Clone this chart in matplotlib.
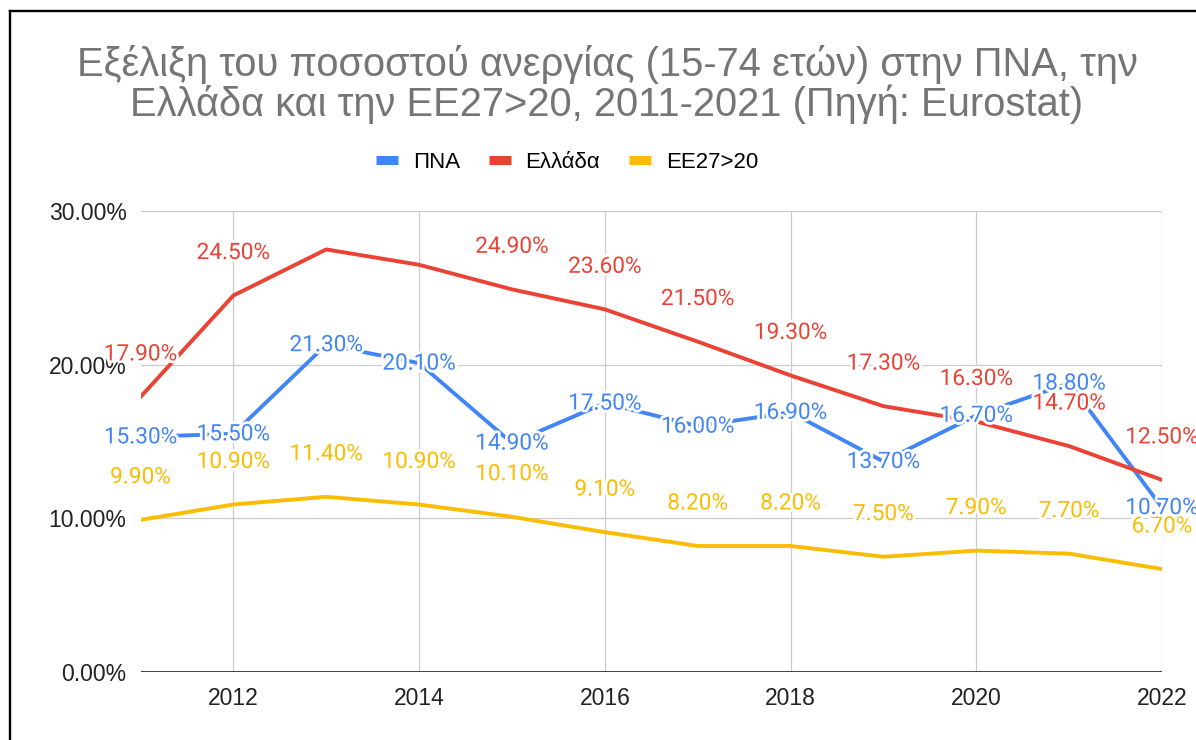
import matplotlib
matplotlib.use("Agg")
import matplotlib.pyplot as plt
import matplotlib.patheffects as pe
from matplotlib.lines import Line2D

# data
years = [2011, 2012, 2013, 2014, 2015, 2016, 2017, 2018, 2019, 2020, 2021, 2022]
pna = [15.3, 15.5, 21.3, 20.1, 14.9, 17.5, 16.0, 16.9, 13.7, 16.7, 18.8, 10.7]
ellada = [17.9, 24.5, 27.5, 26.5, 24.9, 23.6, 21.5, 19.3, 17.3, 16.3, 14.7, 12.5]
ee27 = [9.9, 10.9, 11.4, 10.9, 10.1, 9.1, 8.2, 8.2, 7.5, 7.9, 7.7, 6.7]
# the original shows no label for Ελλάδα in 2013 and 2014
ellada_show = [True, True, False, False, True, True, True, True, True, True, True, True]

series_names = ["ΠΝΑ", "Ελλάδα", "ΕΕ27>20"]
y_ticks = [0, 10, 20, 30]
x_ticks = [2012, 2014, 2016, 2018, 2020, 2022]

title_1 = "Εξέλιξη του ποσοστού ανεργίας (15-74 ετών) στην ΠΝΑ, την"
title_2 = "Ελλάδα και την ΕΕ27>20, 2011-2021 (Πηγή: Eurostat)"

BLUE = "#4285F4"
RED = "#EA4335"
YELLOW = "#FBBC04"
SANS = ["Liberation Sans", "DejaVu Sans"]


def main():
    fig = plt.figure(figsize=(11.96, 7.4), dpi=100)
    ax = fig.add_axes([140.5 / 1196, 1 - 672 / 740, (1162 - 140.5) / 1196, (672 - 211) / 740])

    # frame round the picture (left and top only are inside the crop)
    fig.add_artist(Line2D([9.5 / 1196, 9.5 / 1196], [0, 1 - 10.5 / 740],
                          transform=fig.transFigure, color="black", lw=1.7))
    fig.add_artist(Line2D([9.5 / 1196, 1], [1 - 10.5 / 740, 1 - 10.5 / 740],
                          transform=fig.transFigure, color="black", lw=1.7))

    fig.text(607 / 1196, 1 - 64 / 740, title_1, ha="center", va="center",
             fontsize=28.7, color="#757575", family=SANS)
    fig.text(607 / 1196, 1 - 104 / 740, title_2, ha="center", va="center",
             fontsize=28.7, color="#757575", family=SANS)

    ax.set_xlim(2011, 2022)
    ax.set_ylim(0, 30)
    for s in ax.spines.values():
        s.set_visible(False)

    ax.set_yticks(y_ticks)
    ax.set_yticklabels([f"{v:.2f}%" for v in y_ticks])
    ax.set_xticks(x_ticks)
    ax.set_xticklabels([str(v) for v in x_ticks])
    ax.tick_params(axis="y", length=0, pad=10, labelsize=16.5, labelcolor="#222222")
    ax.tick_params(axis="x", length=0, pad=11, labelsize=16.5, labelcolor="#222222")
    for lab in ax.get_xticklabels() + ax.get_yticklabels():
        lab.set_family(SANS)

    ax.grid(True, color="#cccccc", lw=0.9)
    ax.set_axisbelow(True)
    ax.axhline(0, color="#333333", lw=1.3, zorder=2)

    lw = 2.8
    ax.plot(years, pna, color=BLUE, lw=lw, zorder=3)
    ax.plot(years, ellada, color=RED, lw=lw, zorder=3)
    ax.plot(years, ee27, color=YELLOW, lw=lw, zorder=3)

    halo = [pe.withStroke(linewidth=4, foreground="white")]

    def put_labels(vals, color, dy, show=None):
        for i, (x, v) in enumerate(zip(years, vals)):
            if show is not None and not show[i]:
                continue
            ax.annotate(f"{v:.2f}%", (x, v), xytext=(0, dy), textcoords="offset points",
                        ha="center", va="center", fontsize=16.3, color=color,
                        family=["Roboto", "DejaVu Sans"], path_effects=halo,
                        zorder=5, annotation_clip=False)

    put_labels(ee27, YELLOW, 31)
    put_labels(ellada, RED, 31, ellada_show)
    put_labels(pna, BLUE, 0)

    handles = [Line2D([], [], color=c, lw=6.5, solid_capstyle="butt")
               for c in (BLUE, RED, YELLOW)]
    fig.legend(handles, series_names, loc="center", bbox_to_anchor=(567 / 1196, 1 - 162 / 740),
               ncol=3, frameon=False, prop={"family": SANS, "size": 16},
               handlelength=1.0, handletextpad=0.65, columnspacing=1.3)

    fig.savefig("out.png", dpi=100)


if __name__ == "__main__":
    main()
